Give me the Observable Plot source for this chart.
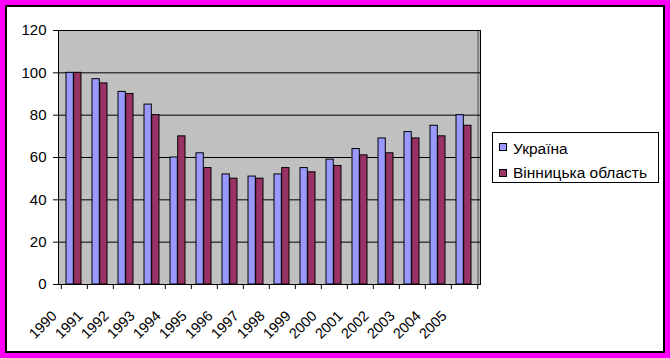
<!DOCTYPE html>
<html>
<head>
<meta charset="utf-8">
<script src="https://cdn.jsdelivr.net/npm/d3@7"></script>
<script src="https://cdn.jsdelivr.net/npm/@observablehq/plot@0.6"></script>
<style>
  html, body { margin: 0; padding: 0; background: #fff; }
  #wrap { position: relative; width: 670px; height: 358px; background: #FF00FF; overflow: hidden; font-family: "Liberation Sans", Arial, sans-serif; }
  #inner { position: absolute; left: 5px; top: 5px; width: 660px; height: 348px; box-sizing: border-box; border: 2px solid #000; background: #fff; }
  #chart { position: absolute; left: 0; top: 0; }
  #legend { position: absolute; left: 492px; top: 132px; width: 167px; height: 51px; box-sizing: border-box; border: 1px solid #000; background: #fff; }
  .sw { position: absolute; width: 8px; height: 8px; box-sizing: border-box; border: 1px solid #000; }
  .lt { position: absolute; font-size: 15.5px; line-height: 15px; white-space: nowrap; color: #000; }
</style>
</head>
<body>
<div id="wrap">
  <div id="inner"></div>
  <div id="chart"></div>
  <div id="legend"></div>
</div>
<script>
const years = ["1990","1991","1992","1993","1994","1995","1996","1997","1998","1999","2000","2001","2002","2003","2004","2005"];
const ukraine = [100, 97, 91, 85, 60, 62, 52, 51, 52, 55, 59, 64, 69, 72, 75, 80];
const vinnytsia = [100, 95, 90, 80, 70, 55, 50, 50, 55, 53, 56, 61, 62, 69, 70, 75];
const yTicks = [0, 20, 40, 60, 80, 100, 120];
const seriesNames = ["Україна", "Вінницька область"];
const seriesColors = ["#9999FF", "#993366"];

const table = years.map((y, i) => ({year: y, ukraine: ukraine[i], vinnytsia: vinnytsia[i]}));

const W = 670, H = 358;
const mLeft = 58, mRight = 190, mTop = 30, mBottom = 74;
const half = (W - mLeft - mRight) / years.length / 2;

const plot = Plot.plot({
  width: W,
  height: H,
  marginLeft: mLeft,
  marginRight: mRight,
  marginTop: mTop,
  marginBottom: mBottom,
  style: {background: "transparent", fontFamily: "'Liberation Sans', Arial, sans-serif", fontSize: "14px", color: "#000", overflow: "visible"},
  x: {type: "band", domain: years, padding: 0, label: null},
  y: {domain: [0, 120], label: null},
  marks: [
    Plot.frame({fill: "#C0C0C0", stroke: "#000", strokeWidth: 1}),
    Plot.ruleX([years[years.length - 1]], {stroke: "#808080", strokeWidth: 2, dx: half + 0.5}),
    Plot.ruleY(yTicks, {stroke: "#000", strokeWidth: 1}),
    Plot.barY(table, {x: "year", y: "ukraine", fill: seriesColors[0], stroke: "#000", strokeWidth: 1, insetLeft: 5, insetRight: 13.7}),
    Plot.barY(table, {x: "year", y: "vinnytsia", fill: seriesColors[1], stroke: "#000", strokeWidth: 1, insetLeft: 12.7, insetRight: 6}),
    Plot.axisY({ticks: yTicks, tickSize: 5, tickPadding: 7, fontSize: 15}),
    Plot.axisX({tickSize: 5, tickFormat: () => "", dx: -half}),
    Plot.axisX({ticks: [years[years.length - 1]], tickSize: 5, tickFormat: () => "", dx: half}),
    Plot.text(years, {x: d => d, text: d => d, frameAnchor: "bottom", rotate: -45, textAnchor: "end", lineAnchor: "middle", dx: -20, dy: 29, fontSize: 14.5, fill: "#000"})
  ]
});
document.getElementById("chart").appendChild(plot);

const legend = document.getElementById("legend");
seriesNames.forEach((name, i) => {
  const sw = document.createElement("div");
  sw.className = "sw";
  sw.style.background = seriesColors[i];
  sw.style.left = "6px";
  sw.style.top = (10 + i * 25.7) + "px";
  legend.appendChild(sw);
  const t = document.createElement("div");
  t.className = "lt";
  t.textContent = name;
  t.style.left = "20px";
  t.style.top = (7.5 + i * 24) + "px";
  legend.appendChild(t);
});
</script>
</body>
</html>
